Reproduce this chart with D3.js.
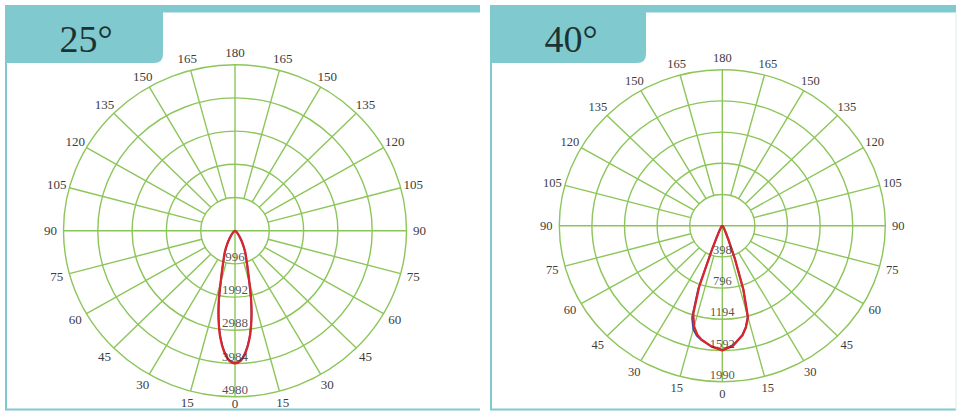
<!DOCTYPE html>
<html>
<head>
<meta charset="utf-8">
<script src="https://cdn.jsdelivr.net/npm/d3@7"></script>
<style>
  body { margin: 0; background: #fff; }
  svg { display: block; }
</style>
</head>
<body>
<div id="chart"></div>
<script>
// beam titles
const titles = ["25°", "40°"];

// ring values for each chart (cd)
const rings25 = [996, 1992, 2988, 3984, 4980];
const rings40 = [398, 796, 1194, 1592, 1990];

// angle tick labels, 0 at the bottom, 180 at the top
const angleTicks = [0, 15, 30, 45, 60, 75, 90, 105, 120, 135, 150, 165, 180];

// 25° lamp: angle (deg, + to the right) and intensity
const angles25 = [-90, -60, -45, -35, -30, -25, -20, -15, -12.5, -10, -7.5, -5, -2.5, 0,
                  2.5, 5, 7.5, 10, 12.5, 15, 20, 25, 30, 35, 45, 60, 90];
const red25 = [0, 20, 100, 260, 440, 690, 1000, 1620, 2180, 2740, 3250, 3640, 3900, 3980,
               3900, 3640, 3250, 2740, 2180, 1620, 1000, 690, 440, 260, 100, 20, 0];
const blue25 = [0, 18, 95, 250, 430, 680, 990, 1600, 2160, 2720, 3230, 3620, 3880, 3960,
                3880, 3620, 3230, 2720, 2160, 1600, 990, 680, 430, 250, 95, 18, 0];

// 40° lamp
const angles40 = [-90, -60, -40, -30, -25, -22.5, -20, -17.5, -15, -12.5, -10, -5, 0,
                  5, 10, 12.5, 15, 17.5, 20, 22.5, 25, 30, 40, 60, 90];
const red40 = [0, 5, 20, 60, 150, 320, 820, 1180, 1330, 1420, 1475, 1545, 1590,
               1535, 1420, 1330, 1210, 860, 450, 200, 110, 50, 15, 5, 0];
const blue40 = [0, 5, 22, 65, 160, 340, 860, 1230, 1370, 1440, 1480, 1545, 1585,
                1530, 1415, 1325, 1200, 850, 440, 195, 105, 50, 15, 5, 0];

const W = 958, H = 412;
const teal = "#80cacf";
const grid = "#8cc65a";

const svg = d3.select("#chart")
  .append("svg")
    .attr("width", W)
    .attr("height", H);

const panels = [
  { x0: 5, x1: 480, tabW: 158, cx: 235, cy: 230.7, rx: 171.5, ry: 166, rings: rings25,
    angles: angles25, series: [blue25, red25], curve: d3.curveCatmullRom, font: 13 },
  { x0: 490, x1: 956, tabW: 156, cx: 722.3, cy: 225.7, rx: 163, ry: 156, rings: rings40,
    angles: angles40, series: [blue40, red40], curve: d3.curveLinear, font: 12.5 }
];

panels.forEach(function(p, i) {
  const g = svg.append("g");
  const k = p.ry / p.rx;
  const max = d3.max(p.rings);
  const r = d3.scaleLinear().domain([0, max]).range([0, p.rx]);
  const rad = a => a * Math.PI / 180;
  const px = (a, v) => p.cx + r(v) * Math.sin(rad(a));
  const py = (a, v) => p.cy + r(v) * Math.cos(rad(a)) * k;

  // frame
  g.append("rect").attr("x", p.x0).attr("y", 5).attr("width", p.x1 - p.x0).attr("height", 7.5)
    .attr("fill", teal);
  g.append("line").attr("x1", p.x0 + 1).attr("x2", p.x0 + 1).attr("y1", 5).attr("y2", 410)
    .attr("stroke", teal).attr("stroke-width", 2);
  g.append("line").attr("x1", p.x0).attr("x2", p.x1).attr("y1", 409.5).attr("y2", 409.5)
    .attr("stroke", teal).attr("stroke-width", 2);
  if (i === 1) {
    g.append("line").attr("x1", p.x1).attr("x2", p.x1).attr("y1", 12).attr("y2", 410)
      .attr("stroke", "#d8eef0").attr("stroke-width", 1);
  }

  // title tab with rounded bottom-right corner
  const tx = p.x0, ty = 5, tw = p.tabW, th = 58, cr = 9;
  g.append("path")
    .attr("d", `M${tx},${ty}H${tx + tw}V${ty + th - cr}Q${tx + tw},${ty + th} ${tx + tw - cr},${ty + th}H${tx}Z`)
    .attr("fill", teal);
  g.append("text")
    .attr("x", tx + 81).attr("y", 52)
    .attr("text-anchor", "middle")
    .style("font-family", "'Liberation Serif', 'DejaVu Serif', serif")
    .style("font-size", "38px")
    .attr("fill", "#1c3333")
    .text(titles[i]);

  // rings
  g.selectAll("ellipse.ring")
    .data(p.rings)
    .join("ellipse")
      .attr("cx", p.cx).attr("cy", p.cy)
      .attr("rx", d => r(d)).attr("ry", d => r(d) * k)
      .attr("fill", "none").attr("stroke", grid).attr("stroke-width", 1.4);

  // spokes every 15° from the first ring out
  const spokes = [];
  for (let a = 15; a < 180; a += 15) if (a !== 90) { spokes.push(a); spokes.push(-a); }
  g.selectAll("line.spoke")
    .data(spokes)
    .join("line")
      .attr("x1", d => px(d, p.rings[0])).attr("y1", d => py(d, p.rings[0]))
      .attr("x2", d => px(d, max)).attr("y2", d => py(d, max))
      .attr("stroke", grid).attr("stroke-width", 1.4);

  // full axes through the centre
  [[0, 180], [90, -90]].forEach(function(pair) {
    g.append("line")
      .attr("x1", px(pair[0], max)).attr("y1", py(pair[0], max))
      .attr("x2", px(pair[1], max)).attr("y2", py(pair[1], max))
      .attr("stroke", grid).attr("stroke-width", 1.4);
  });

  // angle labels
  const labelData = [];
  angleTicks.forEach(function(a) {
    labelData.push({ a: a, t: a });
    if (a !== 0 && a !== 180) labelData.push({ a: -a, t: a });
  });
  g.selectAll("text.ang")
    .data(labelData)
    .join("text")
      .attr("x", d => p.cx + (p.rx + 13) * Math.sin(rad(d.a)))
      .attr("y", d => Math.min(p.cy + (p.ry + 12) * Math.cos(rad(d.a)), 403.5))
      .attr("dy", "0.35em")
      .attr("text-anchor", "middle")
      .style("font-family", "'Liberation Serif', 'DejaVu Serif', serif")
      .style("font-size", p.font + "px")
      .attr("fill", "#3c3c3c")
      .text(d => d.t);

  // curves
  const line = d3.line()
    .x(d => px(d[0], d[1]))
    .y(d => py(d[0], d[1]))
    .curve(p.curve);
  const colors = ["#3b4aa8", "#d8262c"];
  p.series.forEach(function(vals, j) {
    g.append("path")
      .datum(p.angles.map((a, n) => [a, vals[n]]))
      .attr("d", line)
      .attr("fill", "none")
      .attr("stroke", colors[j])
      .attr("stroke-width", j === 1 ? 2.3 : 1.8)
      .attr("stroke-linejoin", "round");
  });

  // ring value labels along the 0° line
  g.selectAll("text.ringlab")
    .data(p.rings)
    .join("text")
      .attr("x", p.cx)
      .attr("y", d => p.cy + r(d) * k - 3)
      .attr("text-anchor", "middle")
      .style("font-family", "'Liberation Serif', 'DejaVu Serif', serif")
      .style("font-size", p.font + "px")
      .attr("fill", "#333")
      .attr("fill-opacity", 0.85)
      .text(d => d);
});
</script>
</body>
</html>
